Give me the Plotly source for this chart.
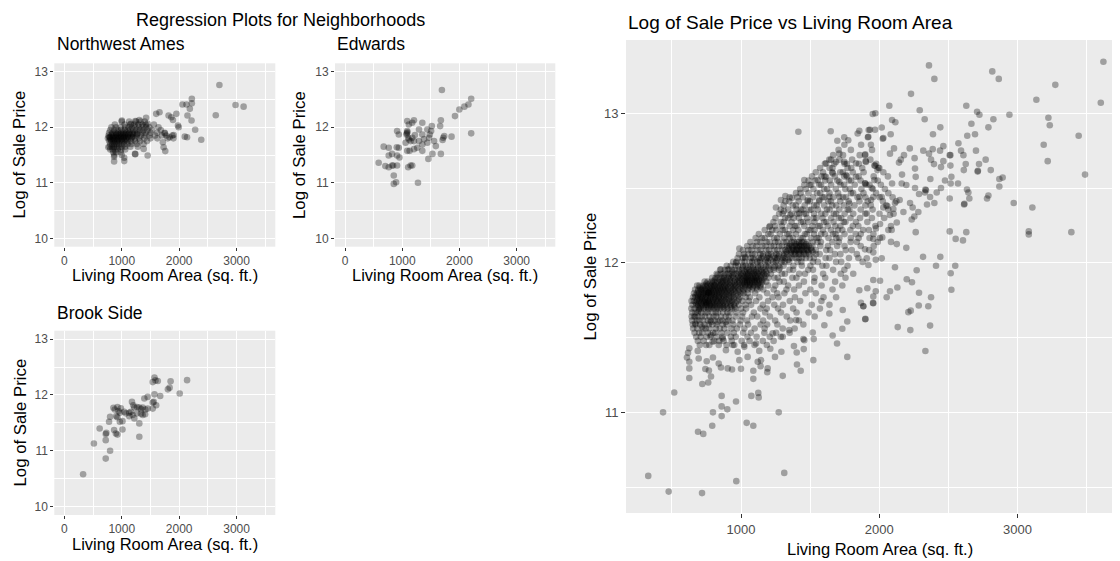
import plotly.graph_objects as go

# The page body has an 8px margin, so the figure is offset by 8px; positions below are
# given in reference-picture pixels and converted with that offset.
OFF = 8
W, H = 1120 - OFF, 561 - OFF

# ---------------- data ----------------
nw_pts = [(2701,12.76),(2982,12.40),(3123,12.37),(2638,12.215),(2385,11.774),(2279,11.953),
          (2221,12.51),(2221,12.43),(2128,12.41),(2057,12.41),(2186,12.33),(2145,12.21),(2216,12.12),
          (2098,11.83),(2138,11.82),(1992,12.0),(1952,12.24),(1892,12.13),(1864,12.18),(1816,12.21),
          (1746,11.89),(1904,11.86),(1776,11.85),(1834,11.82),(1729,11.64),(1758,11.57),(1716,11.73),
          (1658,12.27),(1600,12.24),(1452,11.49),(1382,11.61),(1231,11.52),(1236,11.515),(1043,11.45),
          (1043,11.39),(867,11.385),(1002,12.12),(1160,12.06),(1236,12.11),(1306,12.13),(1452,12.06),
          (1424,12.17),(779,11.82),(767,11.64),(867,11.47),(1980,12.03)]
nw_rows = [
    (12.10, [1000, 1130, 1250, 1330, 1400]),
    (12.05, [880, 1050, 1150, 1220, 1290, 1360, 1420, 1560]),
    (12.00, [820, 900, 980, 1060, 1120, 1180, 1240, 1300, 1360, 1420, 1480, 1640]),
    (11.95, [800, 870, 930, 990, 1050, 1100, 1150, 1200, 1260, 1320, 1380, 1450, 1530, 1680]),
    (11.90, [780, 840, 890, 940, 990, 1030, 1080, 1130, 1180, 1230, 1290, 1360, 1420, 1500, 1620, 1750]),
    (11.875, [830, 905, 960, 1015, 1070, 1125, 1190, 1265]),
    (11.85, [770, 820, 860, 900, 940, 980, 1020, 1060, 1100, 1150, 1200, 1260, 1330, 1400, 1480, 1580, 1700, 1880]),
    (11.825, [795, 855, 915, 975, 1040, 1105, 1180]),
    (11.80, [760, 800, 840, 875, 910, 950, 990, 1030, 1075, 1120, 1170, 1230, 1300, 1390, 1500, 1620, 1800, 1900]),
    (11.775, [805, 870, 935, 1000, 1070]),
    (11.75, [780, 820, 855, 890, 925, 965, 1005, 1050, 1100, 1160, 1230, 1320, 1440]),
    (11.70, [800, 840, 875, 910, 950, 995, 1045, 1100, 1170, 1260, 1380]),
    (11.65, [790, 830, 865, 905, 950, 1000, 1060, 1150, 1280]),
    (11.60, [800, 840, 880, 930, 990, 1060]),
    (11.55, [850, 900, 980]),
    (11.50, [870, 1000]),
]

ed_pts = [(1693,12.67),(2205,12.51),(2157,12.41),(2086,12.37),(1998,12.32),(1922,12.20),(1675,12.125),
          (2205,11.89),(1862,11.83),(1705,11.77),(1716,11.81),(1734,11.84),(1675,11.52),(1663,12.02),
          (1557,11.75),(1587,11.66),(1528,11.52),(1457,11.43),(1505,11.93),(1439,11.96),(1481,11.87),
          (1351,12.08),(1222,11.86),(1293,11.75),(1351,11.69),(1263,11.63),(1351,11.575),(1381,11.785),
          (1205,12.125),(1175,12.08),(1087,12.11),(1116,12.05),(1087,11.93),(1075,11.87),(1116,11.78),
          (1146,11.75),(1104,11.81),(1058,11.72),(1087,11.575),(1129,11.575),(1205,11.605),(1175,11.81),
          (1146,11.31),(1175,11.31),(1104,11.28),(940,11.87),(910,11.93),(940,11.63),(910,11.49),
          (952,11.455),(764,11.63),(822,11.52),(764,11.49),(840,11.31),(910,11.31),(822,11.31),
          (676,11.65),(588,11.36),(705,11.30),(764,11.28),(852,11.13),(893,11.01),(852,10.98),
          (1275,11.0),(1293,11.96),(1351,11.87),(1517,12.02),(1205,11.75),(1469,11.81),(1439,11.72),
          (1090,11.91),(1080,11.89),(905,11.64)]

bs_pts = [(327,10.58),(515,11.13),(615,11.40),(721,11.30),(721,11.19),(732,11.32),(721,10.86),(797,11.0),
          (779,11.52),(797,11.61),(855,11.77),(879,11.74),(925,11.785),(943,11.71),(867,11.37),(925,11.29),
          (897,11.31),(985,11.76),(967,11.68),(1043,11.70),(1013,11.53),(1013,11.38),(1072,11.67),
          (1131,11.68),(1160,11.70),(1189,11.64),(1219,11.58),(1266,11.67),(1178,11.875),(1201,11.815),
          (1266,11.785),(1306,11.775),(1336,11.745),(1365,11.775),(1412,11.74),(1452,11.755),(1540,11.755),
          (1336,11.665),(1306,11.49),(1365,11.64),(1407,11.655),(1219,11.775),(1306,11.25),(1394,11.935),
          (1452,11.965),(1540,12.23),(1570,12.31),(1588,12.26),(1628,12.25),(1570,12.01),(1558,11.875),
          (1600,11.815),(1540,11.865),(1670,11.98),(1804,12.10),(1834,12.13),(1851,12.245),(2010,12.025),
          (2138,12.265),(905,11.62),(925,11.60),(967,11.52),(1131,11.62)]

big_pts = [(2360,13.32),(2399,13.23),(2230,13.13),(2073,13.05),(1972,13.0),(2293,13.02),(2329,12.96),
           (2093,12.955),(2117,12.94),(2442,12.906),(2389,12.86),(2818,13.28),(2865,13.23),(2630,13.05),
           (2708,13.01),(2725,12.99),(2667,12.93),(2826,12.96),(2942,12.99),(2790,12.906),(2693,12.86),
           (2637,12.85),(3137,13.09),(3274,13.19),(3622,13.345),(3603,13.07),(3224,12.97),(3234,12.92),
           (3443,12.85),(3190,12.79),(3219,12.68),(3489,12.59),(2573,12.80),(2700,12.75),(2770,12.69),
           (2722,12.66),(2712,12.61),(2714,12.615),(2807,12.62),(2592,12.75),(2609,12.72),(2626,12.66),
           (2612,12.62),(2510,12.72),(2515,12.65),(2522,12.575),(2476,12.55),(2517,12.53),(2570,12.53),
           (2869,12.56),(2893,12.57),(2869,12.51),(2635,12.49),(2645,12.47),(2652,12.43),(2790,12.45),
           (2780,12.43),(2973,12.40),(3108,12.37),(2510,12.43),(2614,12.39),(2616,12.395),(3082,12.21),
           (3082,12.19),(3390,12.205),(2510,12.21),(2630,12.205),(2553,12.16),(2606,12.15),(2264,12.205),
           (2196,12.10),(2317,12.04),(2442,12.04),(2114,11.97),(2271,11.95),(2411,11.98),(2550,11.98),
           (2517,11.93),(2221,12.765),(2319,12.75),(2387,12.76),(2440,12.75),(2464,12.78),(2360,12.73),
           (2375,12.69),(2396,12.66),(2447,12.64),(2464,12.68),(2515,12.72),(2256,12.70),(2259,12.63),
           (2264,12.575),(2165,12.59),(2370,12.56),(2143,12.67),(2156,12.69),(2179,12.72),(2107,12.765),
           (2078,12.73),(2025,12.83),(2030,12.835),(1933,12.89),(1970,12.89),(2018,12.905),(2083,12.86),
           (1940,12.79),(1918,12.84),(1897,12.72),(1902,12.68),(1970,12.65),(1994,12.635),(1987,12.62),
           (2163,12.53),(2093,12.53),(2196,12.52),(2259,12.50),(2334,12.49),(2338,12.485),(2288,12.46),
           (2331,12.47),(2416,12.47),(2447,12.50),(2368,12.44),(2399,12.40),(2346,12.39),(2242,12.37),
           (2283,12.34),(2254,12.31),(2235,12.29),(2148,12.42),(2114,12.40),(2059,12.38),(2102,12.36),
           (2175,12.34),(2223,12.40),(1897,12.53),(1946,12.50),(1957,12.44),(2018,12.44),(2030,12.37),
           (2078,12.32),(2127,12.27),(2006,12.26),(1910,12.33),(2090,12.22),(2085,12.14),(2127,12.125),
           (2022,12.17),(1977,12.23),(1957,12.16),(1897,12.09),(1957,12.07),(1975,12.02),(2018,12.03),
           (1910,12.03),(1922,11.985),
           (2199,11.89),(2237,11.87),(2522,11.82),(2131,11.835),(2078,11.81),(2054,11.77),(2288,11.80),
           (2375,11.77),(2286,11.715),(2355,11.71),(2211,11.67),(2228,11.68),(2134,11.57),(2225,11.55),
           (2368,11.58),(2334,11.41),(1957,11.885),(2006,11.88),(1914,11.83),(1975,11.81),(1957,11.775),
           (1957,11.73),(1885,11.71),(1900,11.625),
           (517,11.133),(436,11.0),(860,11.11),(1075,11.11),(1125,11.13),(1128,11.10),(964,11.073),
           (860,11.04),(901,11.02),(797,11.0),(860,10.975),(1273,11.0),(792,10.91),(1041,10.93),
           (1089,10.91),(689,10.87),(727,10.856),(329,10.575),(477,10.47),(718,10.46),(966,10.54),
           (1313,10.595),(626,11.23),(720,11.19),(763,11.20),(783,11.24),(768,11.28),(742,11.29),
           (626,11.294),(626,11.338),(609,11.367),(617,11.398),(626,11.429),(687,11.411),(694,11.36),
           (752,11.342),(797,11.367),(839,11.327),(855,11.30),(904,11.294),(935,11.287),(1000,11.291),
           (1089,11.278),(1089,11.224),(1142,11.309),(1190,11.269),(1193,11.294),(1302,11.244),
           (1432,11.278),(1405,11.32),(1523,11.349),(1246,11.371),(1292,11.405),(1212,11.425),
           (1403,11.40),(1454,11.423),(1451,11.49),(1383,11.443),(1526,11.49),(1663,11.514),(1695,11.46),
           (1769,11.371),(1733,11.559),(1769,11.608),(1899,11.623),(1885,11.71),(1955,11.732),
           (669,11.639),(669,11.595),(718,11.572),(694,11.68),(763,11.80),(747,11.735),(783,11.605),
           (831,11.605),(891,11.605),(783,11.516),(795,11.472),(868,11.494),(891,11.416),(940,11.45),
           (976,11.405),(1024,11.438),(1048,11.371),(988,11.349),(1109,11.46),(1132,11.411),
           (1121,11.338),(1145,11.349),(1229,11.528),(1302,11.505),(1349,11.55),(1398,11.617),
           (1458,11.483),(1519,11.534),(1603,11.583),(1639,11.661),(1736,11.684),(1856,11.817),
           (1868,11.732),
           (1415,12.876),(1649,12.88),(1697,12.816),(1747,12.839),(1776,12.82),(1844,12.865),
           (1856,12.883),(1921,12.843),(1924,12.888),(1953,12.995),(1711,12.73),(1651,12.69),
           (1615,12.665),(1687,12.675),(1747,12.675),(1832,12.665),(1899,12.725),(1904,12.675),
           (1965,12.65),(1458,12.553),(1507,12.52),(1555,12.553),(1615,12.575),(1664,12.598),
           (1711,12.542),(1760,12.587),(1832,12.575),(1899,12.531),(1965,12.553),(1289,12.42),
           (1321,12.446),(1369,12.435),(1253,12.37),(1311,12.346),(1357,12.319),(1422,12.33),
           (1483,12.42),(1494,12.353),(1567,12.42),(1639,12.442),(1711,12.442),(1784,12.397),
           (1856,12.442),(1941,12.42),(988,12.096),(1029,12.04),(964,12.0),(855,11.956),(911,11.956),
           (831,11.92),(766,11.80),(1205,12.24)]

big_rows = [
    (11.450, [702, 748, 771, 839, 896, 951, 1022, 1098, 1187]),
    (11.478, [688, 731, 806, 842, 874, 933, 1005, 1062, 1158, 1236]),
    (11.505, [676, 709, 752, 779, 825, 866, 927, 962, 1047, 1113, 1208, 1288]),
    (11.532, [664, 697, 719, 761, 798, 813, 858, 901, 948, 1016, 1072, 1169, 1254, 1352]),
    (11.561, [654, 683, 726, 745, 771, 818, 847, 879, 931, 970, 1024, 1099, 1171, 1302, 1388]),
    (11.588, [651, 672, 704, 737, 766, 793, 825, 869, 897, 944, 992, 1051, 1142, 1189, 1263, 1451]),
    (11.614, [646, 681, 699, 726, 761, 779, 808, 847, 866, 909, 938, 998, 1044, 1160, 1247, 1356, 1419]),
    (11.641, [643, 662, 690, 717, 739, 772, 801, 821, 855, 889, 912, 961, 1008, 1079, 1118, 1209, 1331, 1533]),
    (11.668, [647, 671, 686, 712, 744, 758, 791, 818, 834, 871, 901, 924, 969, 1015, 1093, 1175, 1289, 1402, 1489]),
    (11.694, [641, 664, 696, 709, 731, 762, 780, 803, 829, 852, 878, 903, 935, 958, 1001, 1037, 1141, 1186, 1268, 1377, 1571]),
    (11.719, [649, 677, 690, 718, 741, 753, 775, 796, 814, 843, 866, 889, 921, 948, 985, 1032, 1073, 1158, 1241, 1304, 1512, 1640]),
    (11.745, [642, 659, 681, 700, 724, 736, 762, 771, 794, 822, 835, 859, 883, 917, 936, 974, 1011, 1057, 1109, 1196, 1353, 1428, 1582]),
    (11.770, [653, 668, 692, 712, 719, 745, 757, 780, 801, 812, 839, 853, 877, 900, 931, 950, 991, 1035, 1064, 1133, 1228, 1271, 1390, 1597, 1688]),
    (11.796, [660, 682, 699, 724, 733, 751, 773, 789, 809, 828, 846, 866, 893, 915, 934, 966, 996, 1021, 1049, 1102, 1189, 1262, 1314, 1466, 1541]),
    (11.822, [668, 691, 708, 717, 739, 762, 778, 796, 815, 834, 852, 873, 888, 910, 939, 958, 987, 1019, 1049, 1078, 1117, 1161, 1237, 1329, 1384, 1502, 1662]),
    (11.848, [683, 699, 726, 743, 757, 783, 802, 811, 838, 851, 879, 894, 922, 945, 963, 992, 1012, 1033, 1055, 1068, 1094, 1121, 1140, 1197, 1248, 1341, 1419, 1583, 1733]),
    (11.874, [737, 759, 788, 803, 829, 857, 869, 898, 919, 946, 972, 989, 1018, 1030, 1047, 1061, 1083, 1099, 1112, 1134, 1156, 1183, 1279, 1310, 1455, 1529, 1681]),
    (11.900, [792, 817, 831, 862, 878, 907, 931, 946, 978, 994, 1021, 1038, 1049, 1071, 1088, 1106, 1117, 1146, 1169, 1198, 1241, 1266, 1372, 1401, 1532, 1609, 1756]),
    (11.927, [824, 853, 871, 902, 918, 949, 966, 998, 1013, 1039, 1052, 1079, 1093, 1121, 1135, 1166, 1187, 1215, 1296, 1318, 1421, 1463, 1594, 1722, 1812]),
    (11.953, [849, 884, 902, 936, 955, 987, 1006, 1039, 1059, 1092, 1111, 1147, 1169, 1211, 1237, 1274, 1351, 1377, 1487, 1521, 1666, 1748]),
    (11.980, [897, 926, 961, 979, 1015, 1034, 1069, 1088, 1123, 1142, 1181, 1203, 1246, 1271, 1308, 1379, 1440, 1502, 1589, 1618, 1771]),
    (12.006, [944, 968, 1006, 1026, 1062, 1081, 1118, 1138, 1174, 1195, 1233, 1253, 1294, 1316, 1348, 1409, 1437, 1521, 1556, 1688, 1725, 1880]),
    (12.032, [976, 1011, 1031, 1071, 1087, 1129, 1147, 1188, 1204, 1246, 1262, 1302, 1321, 1352, 1371, 1398, 1419, 1441, 1469, 1498, 1527, 1612, 1640, 1781, 1849]),
    (12.058, [986, 1021, 1052, 1082, 1101, 1141, 1159, 1199, 1217, 1257, 1276, 1314, 1334, 1359, 1381, 1394, 1417, 1429, 1455, 1468, 1496, 1543, 1569, 1679, 1719, 1838]),
    (12.085, [1014, 1053, 1076, 1119, 1141, 1183, 1203, 1243, 1263, 1301, 1320, 1346, 1366, 1381, 1398, 1406, 1425, 1437, 1453, 1476, 1486, 1511, 1541, 1617, 1645, 1758, 1801, 1927]),
    (12.112, [1045, 1084, 1110, 1154, 1177, 1217, 1238, 1276, 1296, 1333, 1348, 1369, 1387, 1398, 1418, 1428, 1443, 1457, 1476, 1489, 1516, 1574, 1629, 1696, 1749, 1866, 1960]),
    (12.139, [1068, 1115, 1141, 1185, 1207, 1248, 1269, 1309, 1329, 1367, 1383, 1408, 1419, 1441, 1453, 1481, 1519, 1553, 1578, 1661, 1708, 1793, 1838, 1989]),
    (12.166, [1106, 1151, 1172, 1240, 1262, 1313, 1352, 1377, 1431, 1446, 1509, 1548, 1561, 1633, 1690, 1712, 1795, 1851, 1930, 2005]),
    (12.192, [1129, 1198, 1214, 1281, 1336, 1349, 1398, 1462, 1475, 1528, 1580, 1607, 1666, 1684, 1749, 1830, 1866, 1958]),
    (12.219, [1172, 1226, 1255, 1301, 1318, 1377, 1415, 1488, 1502, 1533, 1593, 1651, 1702, 1733, 1791, 1884, 1925, 2066]),
    (12.246, [1209, 1247, 1296, 1353, 1389, 1401, 1458, 1517, 1560, 1571, 1628, 1683, 1719, 1809, 1849, 1972, 2085]),
    (12.273, [1235, 1287, 1309, 1366, 1434, 1449, 1487, 1532, 1601, 1618, 1669, 1744, 1756, 1832, 1914]),
    (12.300, [1249, 1319, 1342, 1381, 1419, 1478, 1524, 1545, 1590, 1653, 1707, 1725, 1792, 1861, 1947, 2036]),
    (12.328, [1276, 1302, 1366, 1408, 1455, 1470, 1528, 1581, 1610, 1672, 1688, 1750, 1812, 1899, 2002, 2104]),
    (12.356, [1288, 1341, 1402, 1433, 1448, 1509, 1556, 1622, 1641, 1711, 1773, 1784, 1866, 1952, 2066]),
    (12.384, [1309, 1375, 1397, 1461, 1528, 1547, 1602, 1660, 1689, 1745, 1821, 1900, 1939, 2051]),
    (12.411, [1321, 1349, 1417, 1483, 1498, 1565, 1631, 1650, 1718, 1779, 1857, 1917, 2026, 2124]),
    (12.438, [1352, 1409, 1447, 1521, 1590, 1604, 1667, 1738, 1760, 1843, 1900, 2003, 2097]),
    (12.466, [1398, 1431, 1488, 1551, 1573, 1640, 1702, 1796, 1811, 1886, 1978, 2066]),
    (12.494, [1428, 1469, 1524, 1602, 1623, 1686, 1755, 1787, 1871, 1954, 2041]),
    (12.522, [1458, 1497, 1566, 1579, 1652, 1720, 1746, 1823, 1906, 1930, 2012]),
    (12.550, [1489, 1537, 1609, 1642, 1697, 1781, 1797, 1865, 1989]),
    (12.578, [1514, 1582, 1604, 1679, 1747, 1768, 1851, 1960, 2063]),
    (12.606, [1541, 1593, 1660, 1718, 1737, 1809, 1887, 2030]),
    (12.634, [1572, 1641, 1662, 1771, 1798, 1877, 2001]),
    (12.662, [1607, 1675, 1749, 1766, 1853, 1978]),
    (12.690, [1639, 1712, 1804, 1936]),
    (12.720, [1667, 1738, 1859]),
    (12.755, [1706, 1795, 1948]),
    (12.790, [1748, 1869]),
]

# the darkest parts of the cloud, read as extra rows
big_core_rows = [
    (11.707, [688, 705, 729, 748, 767, 786, 808, 826, 849, 872, 897, 925, 954]),
    (11.733, [672, 694, 713, 731, 750, 769, 787, 805, 827, 851, 874, 902, 929, 962]),
    (11.757, [684, 703, 717, 740, 759, 776, 798, 817, 841, 863, 891, 909, 947, 985]),
    (11.783, [672, 688, 707, 726, 748, 764, 786, 804, 823, 844, 869, 888, 914, 943, 978]),
    (11.809, [690, 711, 732, 748, 768, 782, 803, 821, 840, 860, 881, 903, 926, 951, 980, 1012]),
    (11.835, [702, 725, 748, 770, 790, 806, 829, 846, 867, 885, 906, 929, 952, 977, 1003, 1031, 1060, 1086, 1113, 1141]),
    (11.861, [750, 774, 797, 818, 843, 861, 887, 908, 933, 957, 985, 1009, 1027, 1044, 1066, 1079, 1102, 1124, 1149]),
    (11.887, [812, 846, 871, 893, 919, 958, 983, 1008, 1030, 1044, 1061, 1078, 1097, 1114, 1131, 1153]),
    (11.913, [878, 913, 941, 982, 1004, 1024, 1045, 1064, 1084, 1105, 1126, 1149, 1176]),
    (11.940, [940, 985, 1027, 1046, 1067, 1088, 1108, 1129, 1154, 1180]),
    (11.967, [1012, 1048, 1083, 1124, 1162, 1199, 1238, 1281]),
    (12.019, [1098, 1136, 1179, 1217, 1259, 1300, 1341]),
    (12.045, [1160, 1197, 1236, 1272, 1309]),
    (12.072, [1328, 1361, 1389, 1420, 1452, 1488, 1520]),
    (12.098, [1342, 1376, 1409, 1441, 1472, 1505]),
    (12.125, [1355, 1397, 1433, 1470]),
]

x_ticks = [0, 1000, 2000, 3000]
y_ticks_small = [10, 11, 12, 13]
big_x_ticks = [1000, 2000, 3000]
big_y_ticks = [11, 12, 13]

# ---------------- helpers ----------------
def flatten(pts, *row_sets):
    xs = [p[0] for p in pts]
    ys = [p[1] for p in pts]
    for rows in row_sets:
        for yv, row in rows:
            for xv in row:
                xs.append(xv)
                ys.append(yv)
    return xs, ys

nw_x, nw_y = flatten(nw_pts, nw_rows)
ed_x, ed_y = flatten(ed_pts)
bs_x, bs_y = flatten(bs_pts)
big_x, big_y = flatten(big_pts, big_rows, big_core_rows)

FONT = "Liberation Sans, Arial, Helvetica, sans-serif"
MARK = dict(size=6.6, color="rgba(0,0,0,0.32)", line=dict(width=0))

def fx(p):
    return (p - OFF) / W

def fy(p):
    return 1 - (p - OFF) / H

fig = go.Figure()
for xs, ys, xa, ya in [(nw_x, nw_y, "x", "y"), (ed_x, ed_y, "x2", "y2"),
                       (bs_x, bs_y, "x3", "y3"), (big_x, big_y, "x4", "y4")]:
    fig.add_trace(go.Scatter(x=xs, y=ys, mode="markers", marker=MARK,
                             xaxis=xa, yaxis=ya, showlegend=False, hoverinfo="skip"))

def axis(domain, rng, ticks, minor_dtick, anchor, size, tlen):
    return dict(domain=domain, range=rng, anchor=anchor, tickmode="array", tickvals=ticks,
                showgrid=True, gridcolor="white", gridwidth=1.1, zeroline=False,
                showline=False, ticks="outside", ticklen=tlen, tickwidth=1, tickcolor="#333333",
                tickfont=dict(family=FONT, size=size, color="#4D4D4D"),
                minor=dict(showgrid=True, gridcolor="white", gridwidth=0.55,
                           dtick=minor_dtick, tick0=0, ticks=""),
                fixedrange=True)

sx = [-175, 3675]
sy = [9.85, 13.15]
p1x = [fx(54.3), fx(275.3)]
p2x = [fx(335.0), fx(555.3)]
top_y = [fy(246.7), fy(63.3)]
bot_y = [fy(515.0), fy(330.7)]

fig.update_layout(
    width=W, height=H, autosize=False,
    margin=dict(l=0, r=0, t=0, b=0),
    paper_bgcolor="white", plot_bgcolor="#EBEBEB",
    font=dict(family=FONT, color="black"),
    xaxis=axis(p1x, sx, x_ticks, 500, "y", 12, 3),
    yaxis=axis(top_y, sy, y_ticks_small, 0.5, "x", 12, 3),
    xaxis2=axis(p2x, sx, x_ticks, 500, "y2", 12, 3),
    yaxis2=axis(top_y, sy, y_ticks_small, 0.5, "x2", 12, 3),
    xaxis3=axis(p1x, sx, x_ticks, 500, "y3", 12, 3),
    yaxis3=axis(bot_y, sy, y_ticks_small, 0.5, "x3", 12, 3),
    xaxis4=axis([fx(626), 1.0], [168, 3742], big_x_ticks, 500, "y4", 13, 4),
    yaxis4=axis([fy(513), fy(40)], [10.327, 13.49], big_y_ticks, 0.5, "x4", 13, 4),
)

def note(text, x, y, size, xanchor="center", angle=0):
    fig.add_annotation(text=text, x=fx(x), y=fy(y), xref="paper", yref="paper",
                       xanchor=xanchor, yanchor="middle", showarrow=False, textangle=angle,
                       font=dict(family=FONT, size=size, color="black"))

note("Regression Plots for Neighborhoods", 134, 19.5, 18, "left")
note("Northwest Ames", 55, 44, 17.5, "left")
note("Edwards", 335, 44, 17.5, "left")
note("Brook Side", 55, 312.5, 17.5, "left")
note("Log of Sale Price vs Living Room Area", 626, 22, 19, "left")

xt = "Living Room Area (sq. ft.)"
yt = "Log of Sale Price"
note(xt, 164.8, 275, 16.5)
note(xt, 445, 275, 16.5)
note(xt, 164.8, 543.5, 16.5)
note(xt, 879.5, 548.5, 16.5)
note(yt, 19.5, 155, 16.8, angle=-90)
note(yt, 300, 155, 16.8, angle=-90)
note(yt, 19.5, 423, 16.8, angle=-90)
note(yt, 590, 276.5, 16.8, angle=-90)

fig.write_html("out.html")
